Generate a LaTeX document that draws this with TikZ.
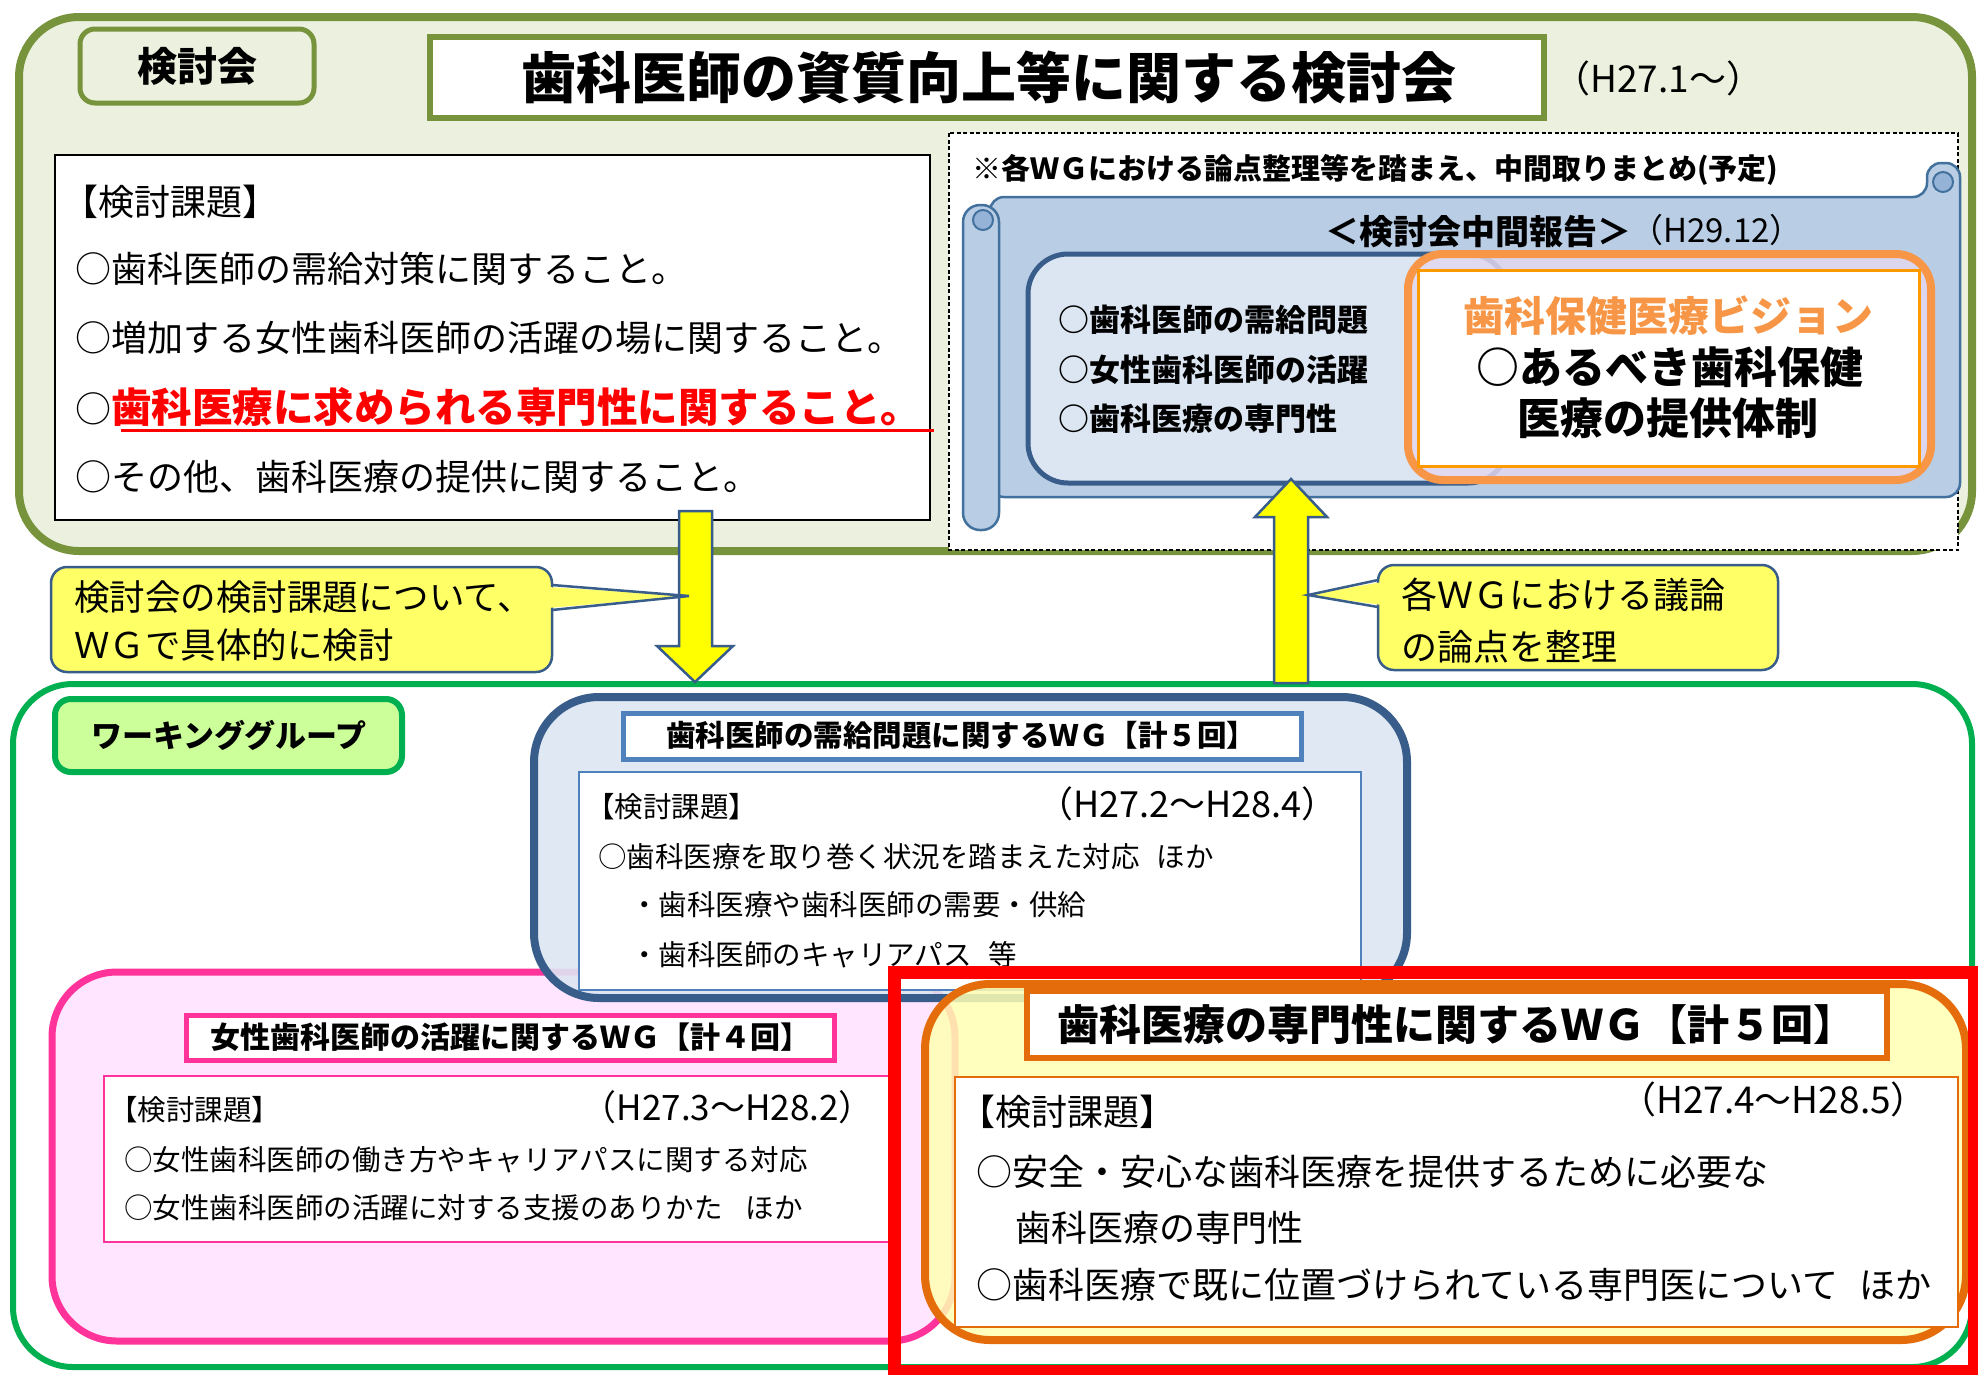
\documentclass[tikz,border=0pt]{standalone}
\usepackage{fontspec}
\setmainfont{Noto Sans CJK JP}
\newcommand\fsz[1]{\fontsize{#1}{#1}\selectfont}
\definecolor{kOlive}{HTML}{77933C}
\definecolor{kOliveFill}{HTML}{EBF1DE}
\definecolor{kNavy}{HTML}{385D8A}
\definecolor{kLightBlue}{HTML}{DCE6F2}
\definecolor{kScroll}{HTML}{B9CDE5}
\definecolor{kScrollDark}{HTML}{95B3D7}
\definecolor{kScrollLine}{HTML}{41719C}
\definecolor{kOrange}{HTML}{F79646}
\definecolor{kOrangeB}{HTML}{FF9900}
\definecolor{kLav}{HTML}{E2D7EF}
\definecolor{kGreen}{HTML}{00B050}
\definecolor{kLightGreen}{HTML}{CCFF99}
\definecolor{kPink}{HTML}{FF3399}
\definecolor{kPinkFill}{HTML}{FFE5FF}
\definecolor{kBlue}{HTML}{4F81BD}
\definecolor{kOrangeD}{HTML}{E46C0A}
\definecolor{kYellowFill}{HTML}{FFFFB3}
\definecolor{kCallout}{HTML}{FFFF66}
\definecolor{kArrow}{HTML}{FFFF00}
\definecolor{kRed}{HTML}{FF0000}
\tikzset{
  jt/.style={inner sep=0pt, anchor=west, font=\fsz{#1}},
  jtb/.style={inner sep=0pt, anchor=west, font=\fsz{#1}\bfseries},
  jtc/.style={inner sep=0pt, font=\fsz{#1}\bfseries},
  scrollshape/.style={draw=kScrollLine, fill=kScroll, line width=2.5},
  calloutbox/.style={draw=kNavy, fill=kCallout, line width=2.5, rounded corners=16},
  blockarrow/.style={draw=kNavy, fill=kArrow, line width=2.5, line join=miter},
}
\begin{document}
\begin{tikzpicture}[x=1pt,y=-1pt]
\useasboundingbox (0,0) rectangle (1978,1374);
\fill[white] (0,0) rectangle (1978,1374);

%================ top panel =================
\draw[line width=8, draw=kOlive, fill=kOliveFill, rounded corners=60] (19,17) rectangle (1972,551);
\draw[line width=5, draw=kOlive, fill=kOliveFill, rounded corners=15] (80,29) rectangle (314,103);
\node[jtc=40] (tabA) at (197,66) {検討会};
\draw[line width=6, draw=kOlive, fill=white] (430,37) rectangle (1544,118);
\node[jtc=55] (title) at (989,77) {歯科医師の資質向上等に関する検討会};
\node[jt=37] (h271) at (1553,78) {（H27.1～）};

% issue box
\draw[line width=1.5, fill=white] (55,155) rectangle (930,520);
\node[jt=36] (k1) at (62,202) {【検討課題】};
\node[jt=36] (k2) at (75,269) {○歯科医師の需給対策に関すること。};
\node[jt=36] (k3) at (75,338) {○増加する女性歯科医師の活躍の場に関すること。};
\node[jt=36] (k4) at (75,407) {○\textcolor{kRed}{\fsz{40.5}\bfseries 歯科医療に求められる専門性に関すること。}};
\draw[kRed, line width=3] (121,430) -- (934,430);
\node[jt=36] (k5) at (75,477) {○その他、歯科医療の提供に関すること。};

% dashed box
\draw[dash pattern=on 4pt off 2.5pt, line width=1.5, fill=white] (949,133) rectangle (1958,550);
\node[jtb=29] (note) at (972,170) {※各ＷＧにおける論点整理等を踏まえ、中間取りまとめ(予定)};

% scroll
\draw[scrollshape, rounded corners=14] (990,197) -- (1927,197) -- (1927,163) -- (1960,163) -- (1960,497) -- (990,497) -- cycle;
\draw[scrollshape, fill=kScrollDark, line width=2] (1943,182) circle (10);
\draw[scrollshape, rounded corners=17] (963,205) rectangle (999,530);
\draw[scrollshape, fill=kScrollDark, line width=2] (983,220) circle (10);

\node[jtb=34, anchor=east] (midrep) at (1632,232) {＜検討会中間報告＞};
\node[jt=33] (h2912) at (1630,230) {（H29.12）};

\draw[line width=5, draw=kNavy, fill=kLightBlue, rounded corners=40] (1028,254) rectangle (1508,483);
\node[jtb=31] (s1) at (1058,320) {○歯科医師の需給問題};
\node[jtb=31] (s2) at (1058,370) {○女性歯科医師の活躍};
\node[jtb=31] (s3) at (1058,419) {○歯科医療の専門性};

\draw[line width=8, draw=kOrange, fill=kLav, fill opacity=0.85, rounded corners=35] (1408,254) rectangle (1931,480);
\draw[line width=3, draw=kOrangeB, fill=white] (1418,270) rectangle (1919,466);
\node[jtc=41, text=kOrange] (vis) at (1668,316) {歯科保健医療ビジョン};
\node[jtc=43] (v1) at (1670,367) {○あるべき歯科保健};
\node[jtc=43] (v2) at (1668,418) {医療の提供体制};

%================ bottom panel =================
\draw[line width=6, draw=kGreen, fill=white, rounded corners=60] (13,684) rectangle (1972,1367);
\draw[line width=6, draw=kGreen, fill=kLightGreen, rounded corners=16] (55,699) rectangle (402,772);
\node[jtc=31] (wgtab) at (229,735) {ワーキンググループ};

% pink WG
\draw[line width=7, draw=kPink, fill=kPinkFill, rounded corners=65] (52,972) rectangle (955,1341);
\draw[line width=5, draw=kPink, fill=white] (186,1015) rectangle (834,1060);
\node[jtc=30] (pinkT) at (510,1037) {女性歯科医師の活躍に関するＷＧ【計４回】};
\draw[line width=1.5, draw=kPink, fill=white] (104,1076) rectangle (895,1242);
\node[jt=28.5] (p1) at (109,1110) {【検討課題】};
\node[jt=35, anchor=east] (p2) at (874,1107) {（H27.3～H28.2）};
\node[jt=28.5] (p3) at (124,1160) {○女性歯科医師の働き方やキャリアパスに関する対応};
\node[jt=28.5] (p4) at (124,1208) {○女性歯科医師の活躍に対する支援のありかた\hspace{0.8em}ほか};

% blue WG
\draw[line width=8, draw=kNavy, fill=kLightBlue, fill opacity=0.9, rounded corners=65] (534,697) rectangle (1407,998);
\draw[line width=5, draw=kBlue, fill=white] (623,713) rectangle (1301,759);
\node[jtc=29.5] (blueT) at (961,735) {歯科医師の需給問題に関するＷＧ【計５回】};
\draw[line width=1.8, draw=kBlue, fill=white] (579,772) rectangle (1361,990);
\node[jt=28.5] (b1) at (586,807) {【検討課題】};
\node[jt=36, anchor=east] (b2) at (1338,804) {（H27.2～H28.4）};
\node[jt=28.5] (b3) at (598,857) {○歯科医療を取り巻く状況を踏まえた対応\hspace{0.6em}ほか};
\node[jt=28.5] (b4) at (630,905) {・歯科医療や歯科医師の需要・供給};
\node[jt=28.5] (b5) at (630,955) {・歯科医師のキャリアパス\hspace{0.6em}等};

% orange WG
\draw[line width=8, draw=kOrangeD, fill=kYellowFill, fill opacity=0.85, rounded corners=65] (925,984) rectangle (1966,1340);
\draw[line width=6, draw=kOrangeD, fill=white] (1027,991) rectangle (1887,1058);
\node[jtc=42] (oT) at (1456,1025) {歯科医療の専門性に関するＷＧ【計５回】};
\draw[line width=2, draw=kOrangeD, fill=white] (955,1077) rectangle (1958,1327);
\node[jt=36] (o1) at (959,1112) {【検討課題】};
\node[jt=37, anchor=east] (o2) at (1928,1099) {（H27.4～H28.5）};
\node[jt=36] (o3) at (976,1172) {○安全・安心な歯科医療を提供するために必要な};
\node[jt=36] (o4) at (1015,1228) {歯科医療の専門性};
\node[jt=36] (o5) at (976,1285) {○歯科医療で既に位置づけられている専門医について\hspace{0.6em}ほか};

% red frame
\draw[line width=13, draw=kRed] (894,972) rectangle (1974,1371);

%================ arrows & callouts =================
\draw[blockarrow] (679,511) -- (712,511) -- (712,646) -- (733,646) -- (695,682) -- (657,646) -- (679,646) -- cycle;
\draw[blockarrow] (1274,683) -- (1308,683) -- (1308,517) -- (1327,517) -- (1291,479) -- (1255,517) -- (1274,517) -- cycle;

\draw[calloutbox] (51,567) rectangle (552,672);
\fill[kCallout] (548,587) -- (689,596) -- (548,608) -- cycle;
\draw[draw=kNavy, line width=2.5] (552,585) -- (689,596) -- (552,610);
\node[jt=35.5] (c1a) at (74,597) {検討会の検討課題について、};
\node[jt=35.5] (c1b) at (74,645) {ＷＧで具体的に検討};

\draw[calloutbox] (1378,565) rectangle (1778,670);
\fill[kCallout] (1382,582) -- (1308,595) -- (1382,605) -- cycle;
\draw[draw=kNavy, line width=2.5] (1378,580) -- (1308,595) -- (1378,607);
\node[jt=36] (c2a) at (1401,595) {各ＷＧにおける議論};
\node[jt=36] (c2b) at (1401,647) {の論点を整理};
\end{tikzpicture}
\end{document}
